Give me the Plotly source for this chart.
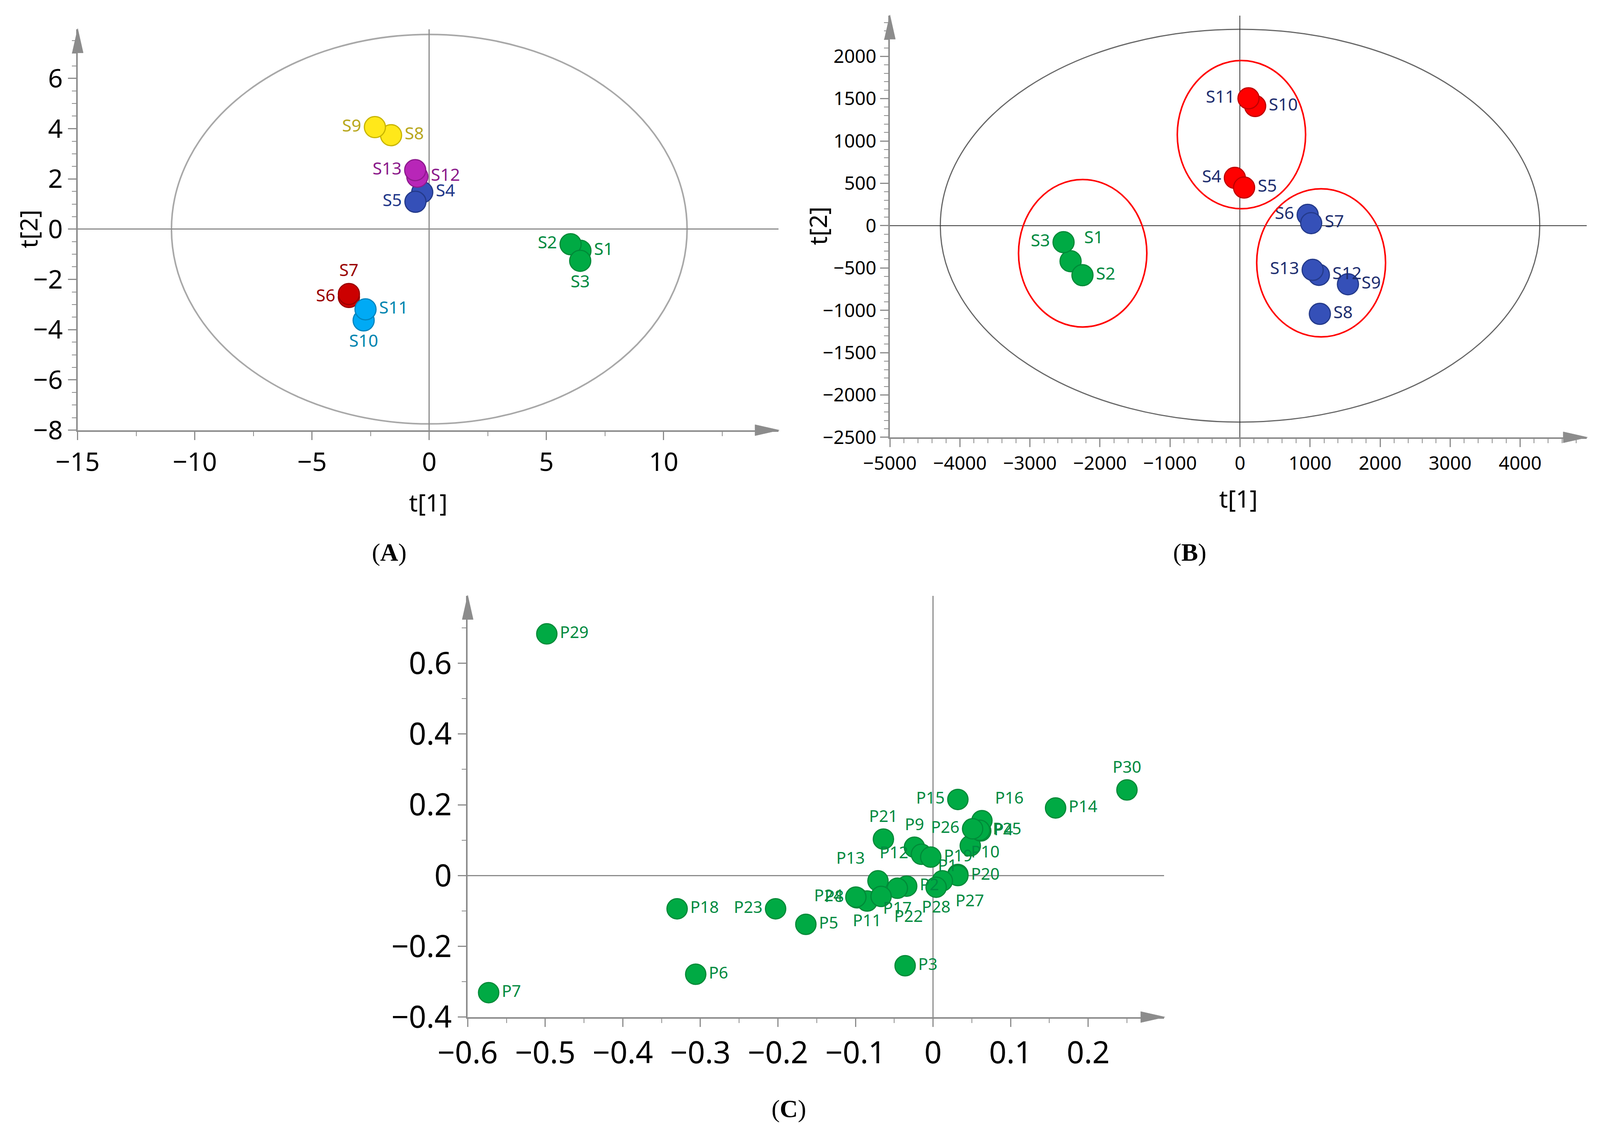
import plotly.graph_objects as go

# ---- panel A: PCA scores ----
a_names = ['S1', 'S2', 'S3', 'S4', 'S5', 'S6', 'S7', 'S8', 'S9', 'S10', 'S11', 'S12', 'S13']
a_t1 = [6.45, 6.03, 6.44, -0.30, -0.59, -3.43, -3.43, -1.63, -2.32, -2.80, -2.72, -0.51, -0.60]
a_t2 = [-0.86, -0.60, -1.26, 1.47, 1.09, -2.70, -2.58, 3.74, 4.06, -3.63, -3.19, 2.09, 2.35]
a_group = ['g', 'g', 'g', 'b', 'b', 'r', 'r', 'y', 'y', 'c', 'c', 'p', 'p']
a_ellipse = [11.0, 7.75]  # Hotelling T2 half axes

# ---- panel B: scores with groups ----
b_names = ['S1', 'S2', 'S3', 'S4', 'S5', 'S6', 'S7', 'S8', 'S9', 'S10', 'S11', 'S12', 'S13']
b_t1 = [-2420, -2250, -2520, -74, 58, 966, 1016, 1140, 1541, 216, 121, 1126, 1037]
b_t2 = [-420, -585, -195, 564, 450, 128, 30, -1042, -692, 1413, 1504, -581, -522]
b_group = ['g', 'g', 'g', 'r', 'r', 'b', 'b', 'b', 'b', 'r', 'r', 'b', 'b']
b_ellipse = [4280, 2320]
b_cluster_cx = [-2247, 20, 1158]
b_cluster_cy = [-326, 1075, -439]
b_cluster_rx = [916, 916, 920]
b_cluster_ry = [871, 875, 875]

# ---- panel C: loadings ----
c_names = ['P1', 'P2', 'P3', 'P4', 'P5', 'P6', 'P7', 'P8', 'P9', 'P10',
           'P11', 'P12', 'P13', 'P14', 'P15', 'P16', 'P17', 'P18', 'P19', 'P20',
           'P21', 'P22', 'P23', 'P24', 'P25', 'P26', 'P27', 'P28', 'P29', 'P30']
c_p1 = [0.048, -0.034, -0.036, 0.0615, -0.164, -0.306, -0.573, -0.098, -0.024, 0.032,
        -0.085, -0.015, -0.071, 0.158, 0.032, 0.063, -0.046, -0.330, -0.003, 0.032,
        -0.064, -0.067, -0.203, -0.0995, 0.060, 0.051, 0.012, 0.004, -0.498, 0.250]
c_p2 = [0.084, -0.030, -0.255, 0.126, -0.138, -0.279, -0.331, -0.063, 0.080, 0.003,
        -0.072, 0.060, -0.015, 0.191, 0.215, 0.155, -0.036, -0.094, 0.052, 0.000,
        0.103, -0.059, -0.094, -0.061, 0.128, 0.132, -0.015, -0.033, 0.683, 0.242]

# styles
fill = {'g': '#00AA44', 'b': '#3550B8', 'r': '#CC0000', 'y': '#FFE81A', 'c': '#00AAF5', 'p': '#B826B8'}
edge = {'g': '#008A38', 'b': '#243A8A', 'r': '#9A0000', 'y': '#C8B400', 'c': '#0085BE', 'p': '#8E1A8E'}
a_txtcol = {'g': '#008A40', 'b': '#22388A', 'r': '#9A0000', 'y': '#B8A820', 'c': '#0085B0', 'p': '#8B1A8B'}
b_fill = {'g': '#00AA44', 'b': '#3550B8', 'r': '#FF0000'}
b_edge = {'g': '#008A38', 'b': '#243A8A', 'r': '#C00000'}

a_pos = ['middle right', 'middle left', 'bottom center', 'middle right', 'middle left',
         'middle left', 'top center', 'middle right', 'middle left', 'bottom center',
         'middle right', 'middle right', 'middle left']
b_pos = ['top right', 'middle right', 'middle left', 'middle left', 'middle right',
         'middle left', 'middle right', 'middle right', 'middle right', 'middle right',
         'middle left', 'middle right', 'middle left']
c_pos = ['bottom left', 'middle right', 'middle right', 'middle right', 'middle right',
         'middle right', 'middle right', 'middle left', 'top center', 'top right',
         'bottom center', 'middle left', 'top left', 'middle right', 'middle left',
         'top right', 'bottom center', 'middle right', 'middle right', 'middle right',
         'top center', 'bottom right', 'middle left', 'middle left', 'middle right',
         'middle left', 'bottom right', 'bottom center', 'middle right', 'top center']

FONT = 'Noto Sans'
AXC = '#8C8C8C'

fig = go.Figure()

fig.add_trace(go.Scatter(
    x=a_t1, y=a_t2, text=a_names, mode='markers+text', textposition=a_pos,
    marker=dict(size=54, color=[fill[g] for g in a_group],
                line=dict(color=[edge[g] for g in a_group], width=3)),
    textfont=dict(family=FONT, size=44, color=[a_txtcol[g] for g in a_group]),
    xaxis='x', yaxis='y', showlegend=False, cliponaxis=False))

fig.add_trace(go.Scatter(
    x=b_t1, y=b_t2, text=b_names, mode='markers+text', textposition=b_pos,
    marker=dict(size=54, color=[b_fill[g] for g in b_group],
                line=dict(color=[b_edge[g] for g in b_group], width=3)),
    textfont=dict(family=FONT, size=44,
                  color=['#008A40' if g == 'g' else '#1F2F70' for g in b_group]),
    xaxis='x2', yaxis='y2', showlegend=False, cliponaxis=False))

fig.add_trace(go.Scatter(
    x=c_p1, y=c_p2, text=c_names, mode='markers+text', textposition=c_pos,
    marker=dict(size=52, color='#00AA44', line=dict(color='#008A38', width=3)),
    textfont=dict(family=FONT, size=42, color='#008A40'),
    xaxis='x3', yaxis='y3', showlegend=False, cliponaxis=False))


def axis(dom, rng, dtick, minor, size, anchor, zc=AXC, zw=3):
    return dict(domain=dom, range=rng, anchor=anchor, showgrid=False, automargin=False,
                zeroline=True, zerolinecolor=zc, zerolinewidth=zw,
                showline=True, linecolor=AXC, linewidth=4,
                ticks='outside', ticklen=21, tickwidth=3, tickcolor=AXC,
                tick0=0, dtick=dtick,
                tickfont=dict(family=FONT, size=size, color='black'),
                minor=dict(dtick=minor, ticks='outside', ticklen=11, tickwidth=2,
                           tickcolor=AXC, showgrid=False))


# no fixed size: the figure fills the browser window
fig.update_layout(
    autosize=True,
    margin=dict(l=0, r=0, t=0, b=0),
    paper_bgcolor='white', plot_bgcolor='white',
    xaxis=axis([0.0468, 0.4865], [-15, 14.9], 5, 2.5, 66, 'y'),
    yaxis=axis([0.623, 0.9768], [-8, 7.95], 2, 0.5, 66, 'x'),
    xaxis2=axis([0.5564, 0.9936], [-5000, 4950], 1000, 200, 48, 'y2', '#333333', 2),
    yaxis2=axis([0.6167, 0.9889], [-2500, 2480], 500, 100, 48, 'x2', '#333333', 2),
    xaxis3=axis([0.2915, 0.7285], [-0.6, 0.298], 0.1, 0.05, 78, 'y3'),
    yaxis3=axis([0.1049, 0.4766], [-0.4, 0.79], 0.2, 0.1, 78, 'x3'),
)

# Hotelling ellipses
fig.add_shape(type='circle', xref='x', yref='y', layer='below',
              x0=-a_ellipse[0], x1=a_ellipse[0], y0=-a_ellipse[1], y1=a_ellipse[1],
              line=dict(color='#A8A8A8', width=4))
fig.add_shape(type='circle', xref='x2', yref='y2', layer='below',
              x0=-b_ellipse[0], x1=b_ellipse[0], y0=-b_ellipse[1], y1=b_ellipse[1],
              line=dict(color='#666666', width=3))
for cx, cy, rx, ry in zip(b_cluster_cx, b_cluster_cy, b_cluster_rx, b_cluster_ry):
    fig.add_shape(type='circle', xref='x2', yref='y2',
                  x0=cx - rx, x1=cx + rx, y0=cy - ry, y1=cy + ry,
                  line=dict(color='#FF0000', width=4))

# arrow heads at the axis ends
for xa, ya in [('x', 'y'), ('x2', 'y2'), ('x3', 'y3')]:
    fig.add_shape(type='path', xref=xa + ' domain', yref=ya + ' domain',
                  xsizemode='pixel', ysizemode='pixel', xanchor=1, yanchor=0,
                  path='M -60,-14 L 2,0 L -60,14 Z',
                  fillcolor=AXC, line=dict(color=AXC, width=1))
    fig.add_shape(type='path', xref=xa + ' domain', yref=ya + ' domain',
                  xsizemode='pixel', ysizemode='pixel', xanchor=0, yanchor=1,
                  path='M -14,-60 L 0,2 L 14,-60 Z',
                  fillcolor=AXC, line=dict(color=AXC, width=1))

# axis titles and panel labels
notes = [
    (0.2667, 0.5595, 't[1]', 0, 62),
    (0.0157, 0.8005, 't[2]', -90, 62),
    (0.7750, 0.5629, 't[1]', 0, 62),
    (0.5110, 0.8036, 't[2]', -90, 62),
]
for x, y, t, ang, s in notes:
    fig.add_annotation(x=x, y=y, xref='paper', yref='paper', text=t, textangle=ang,
                       xanchor='center', yanchor='middle', showarrow=False,
                       font=dict(family=FONT, size=s, color='black'))

for x, y, t in [(0.2423, 0.5153, 'A'), (0.7444, 0.5153, 'B'), (0.4931, 0.0240, 'C')]:
    fig.add_annotation(x=x, y=y, xref='paper', yref='paper', text='(<b>' + t + '</b>)',
                       xanchor='center', yanchor='middle', showarrow=False,
                       font=dict(family='Liberation Serif', size=64, color='black'))

fig.write_html("out.html")
